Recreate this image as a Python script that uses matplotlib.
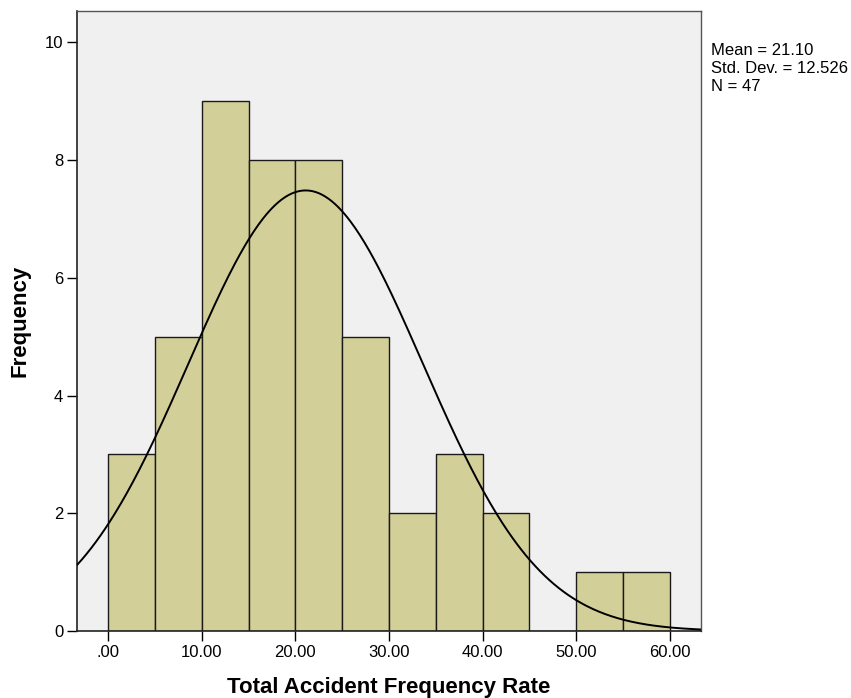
import numpy as np
import matplotlib
matplotlib.use("Agg")
import matplotlib.pyplot as plt

# histogram bins (width 5) and counts
bin_edges = [0, 5, 10, 15, 20, 25, 30, 35, 40, 45, 50, 55, 60]
counts = [3, 5, 9, 8, 8, 5, 2, 3, 2, 0, 1, 1]
mean, sd, n = 21.10, 12.526, 47
x_ticks = [0, 10, 20, 30, 40, 50, 60]
x_labels = [".00", "10.00", "20.00", "30.00", "40.00", "50.00", "60.00"]
y_ticks = [0, 2, 4, 6, 8, 10]

plt.rcParams["font.family"] = ["Liberation Sans", "DejaVu Sans"]

fig = plt.figure(figsize=(8.51, 6.98), dpi=100)
ax = fig.add_axes([0.0905, 0.096, 0.7332, 0.888])
ax.set_facecolor("#f0f0f0")

lefts = bin_edges[:-1]
widths = np.diff(bin_edges)
ax.bar(lefts, counts, width=widths, align="edge", color="#d3cf99",
       edgecolor="#1a1a1a", linewidth=1.0, zorder=2)

xlo, xhi = -3.31, 63.31
xs = np.linspace(xlo, xhi, 400)
bw = bin_edges[1] - bin_edges[0]
ys = n * bw / (sd * np.sqrt(2 * np.pi)) * np.exp(-0.5 * ((xs - mean) / sd) ** 2)
ax.plot(xs, ys, color="black", linewidth=1.4, zorder=3)

ax.set_xlim(xlo, xhi)
ax.set_ylim(0, 10.53)
ax.set_xticks(x_ticks)
ax.set_xticklabels(x_labels)
ax.set_yticks(y_ticks)
ax.tick_params(axis="both", direction="out", length=7, width=1, labelsize=12,
               colors="black", pad=3)
for s in ["left", "bottom"]:
    ax.spines[s].set_color("#222222")
    ax.spines[s].set_linewidth(1.2)
for s in ["top", "right"]:
    ax.spines[s].set_color("#555555")
    ax.spines[s].set_linewidth(1.0)

ax.set_xlabel("Total Accident Frequency Rate", fontsize=16, fontweight="bold", labelpad=12)
ax.set_ylabel("Frequency", fontsize=16, fontweight="bold", labelpad=10)

fig.text(711 / 851, 1 - 43 / 698,
         "Mean = %.2f\nStd. Dev. = %.3f\nN = %d" % (mean, sd, n),
         fontsize=12, va="top", ha="left", linespacing=1.25)

fig.savefig("out.png", dpi=100)
